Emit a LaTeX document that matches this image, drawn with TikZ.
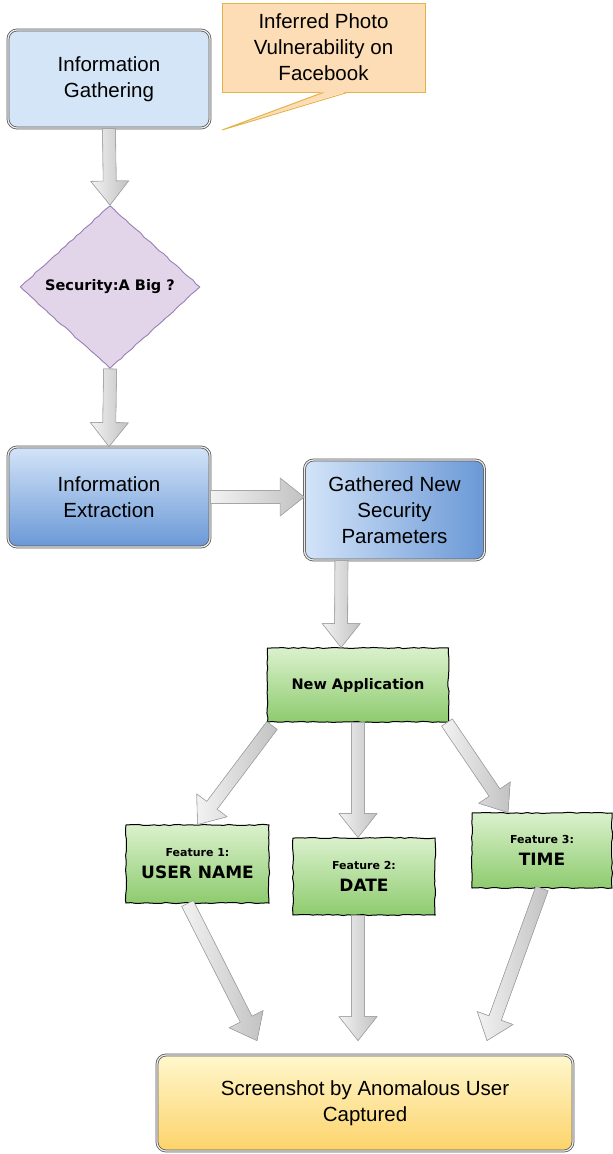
\documentclass[tikz,border=0pt]{standalone}
\usepackage{fontspec}
\setmainfont{Liberation Sans}
\newfontfamily\comic{DejaVu Sans}
\usetikzlibrary{shapes.geometric,calc,decorations.pathmorphing}
\definecolor{gatherblue}{HTML}{D5E5F8}
\definecolor{bluetop}{HTML}{D3E4F8}
\definecolor{bluebot}{HTML}{6A98D6}
\definecolor{notefill}{HTML}{FDDDB5}
\definecolor{noteline}{HTML}{E3B24A}
\definecolor{decidefill}{HTML}{E2D5EA}
\definecolor{decideline}{HTML}{9A7FB2}
\definecolor{greentop}{HTML}{DBF1CD}
\definecolor{greenbot}{HTML}{8DCB6E}
\definecolor{yellowtop}{HTML}{FFF7CD}
\definecolor{yellowbot}{HTML}{FCD36A}
\newcommand{\fatarrow}[2]{%
  \coordinate (fa-s) at (#1);
  \coordinate (fa-e) at (#2);
  \coordinate (fa-h) at ($(fa-e)!24pt!(fa-s)$);
  \filldraw[fatarr]
    ($(fa-s)!6.5pt!90:(fa-e)$) -- ($(fa-h)!6.5pt!90:(fa-e)$) --
    ($(fa-h)!19pt!90:(fa-e)$) -- (fa-e) --
    ($(fa-h)!19pt!-90:(fa-e)$) -- ($(fa-h)!6.5pt!-90:(fa-e)$) --
    ($(fa-s)!6.5pt!-90:(fa-e)$) -- cycle;
}
\newcommand{\featlabel}[2]{{\fontsize{11}{13}\selectfont #1}\\#2}
\tikzset{
  flowbox/.style={rounded corners=9pt, draw=black!65, double=black!8,
    double distance=1.2pt, line width=0.8pt, inner sep=0pt, align=center,
    font=\fontsize{20.5}{26}\selectfont},
  sketchbox/.style={draw=black, line width=1pt, inner sep=0pt, align=center,
    top color=greentop, bottom color=greenbot,
    decorate, decoration={random steps, segment length=5pt, amplitude=0.6pt}},
  decision/.style={diamond, aspect=1.1, inner sep=0pt, minimum width=180pt,
    minimum height=163pt, fill=decidefill, draw=decideline, line width=0.9pt,
    decorate, decoration={random steps, segment length=5pt, amplitude=0.6pt},
    font=\comic\bfseries\fontsize{14.5}{17}\selectfont},
  callout/.style={fill=notefill, draw=noteline, line width=0.9pt, inner sep=0pt,
    align=center, font=\fontsize{20.5}{26}\selectfont},
  fatarr/.style={draw=gray!70, line width=0.6pt, left color=gray!10, right color=gray!48},
  feature/.style={sketchbox, font=\comic\bfseries\fontsize{17}{22}\selectfont}
}
\begin{document}
\begin{tikzpicture}[x=1pt,y=-1pt]
  \useasboundingbox (0,0) rectangle (613,1154);
  \node[flowbox, fill=gatherblue, minimum width=202pt, minimum height=98pt]
    (gather) at (109,79) {Information\\Gathering};
  \node[callout, minimum width=203pt, minimum height=89pt]
    (note) at (323.5,47.5) {Inferred Photo\\Vulnerability on\\Facebook};
  \coordinate (notetip) at (222,130);
  \fill[notefill] ([yshift=1pt]note.south) -- (notetip) -- ([xshift=24pt,yshift=1pt]note.south) -- cycle;
  \draw[noteline, line width=0.9pt] (note.south) -- (notetip) -- ([xshift=24pt]note.south);
  \node[decision] (decide) at (110,287) {Security:A Big ?};
  \node[flowbox, top color=bluetop, bottom color=bluebot, minimum width=202pt, minimum height=100pt]
    (extract) at (109,497) {Information\\Extraction};
  \node[flowbox, left color=bluetop, right color=bluebot, minimum width=180pt, minimum height=100pt]
    (params) at (394.5,510) {Gathered New\\Security\\Parameters};
  \node[sketchbox, minimum width=181pt, minimum height=74pt,
    font=\comic\bfseries\fontsize{14.5}{17}\selectfont]
    (app) at (358,685) {New Application};
  \node[feature, minimum width=143pt, minimum height=78pt]
    (feat1) at (197.5,864) {\featlabel{Feature 1:}{USER NAME}};
  \node[feature, minimum width=142pt, minimum height=77pt]
    (feat2) at (364,876.5) {\featlabel{Feature 2:}{DATE}};
  \node[feature, minimum width=140pt, minimum height=75pt]
    (feat3) at (542,850.5) {\featlabel{Feature 3:}{TIME}};
  \node[flowbox, top color=yellowtop, bottom color=yellowbot, minimum width=416pt, minimum height=96pt]
    (result) at (365,1103) {Screenshot by Anomalous User\\Captured};
  \fatarrow{gather.south}{decide.north}
  \fatarrow{decide.south}{extract.north}
  \fatarrow{extract.east}{extract.east -| params.west}
  \fatarrow{[xshift=-53pt]params.south}{[xshift=-17pt]app.north}
  \fatarrow{[xshift=5pt,yshift=-3pt]app.south west}{feat1.north}
  \fatarrow{app.south}{app.south |- feat2.north}
  \fatarrow{[xshift=-2pt]app.south east}{[xshift=-34pt]feat3.north}
  \fatarrow{[xshift=-10pt]feat1.south}{[xshift=-108pt,yshift=14pt]result.north}
  \fatarrow{[xshift=-6pt]feat2.south}{[xshift=-7pt,yshift=14pt]result.north}
  \fatarrow{feat3.south}{[xshift=122pt,yshift=14pt]result.north}
\end{tikzpicture}
\end{document}
